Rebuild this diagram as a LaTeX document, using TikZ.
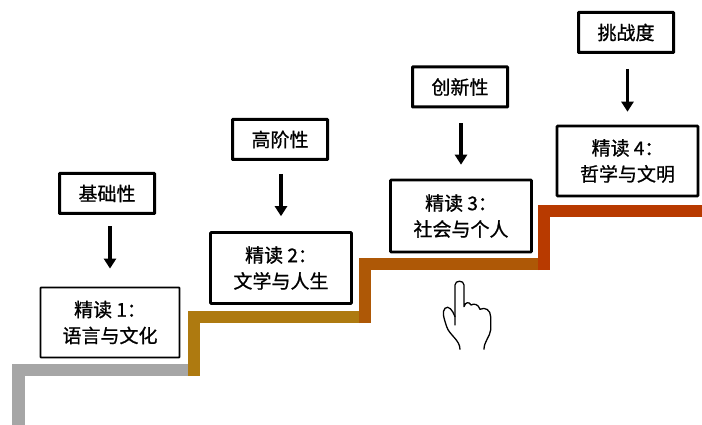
\documentclass[tikz,border=0pt]{standalone}
\usepackage{fontspec}
\setmainfont{Noto Sans CJK SC}[FakeBold=0.9]
\usetikzlibrary{arrows.meta}
\tikzset{
  x=1pt,y=-1pt,
  stair/.style={line width=12.5pt,miter limit=10},
  lab/.style={draw=black,line width=3pt,rounded corners=0.6pt,fill=white,inner sep=0pt,minimum width=95pt,minimum height=40pt,align=center,font=\fontsize{19}{26}\selectfont},
  box/.style={draw=black,line width=2.6pt,rounded corners=0.6pt,fill=white,inner sep=0pt,minimum width=139pt,minimum height=70pt,align=center,font=\fontsize{19}{26}\selectfont},
  thinbox/.style={box,line width=1.8pt},
  up/.style={-{Triangle[length=10pt,width=12pt]},line width=3.2pt,shorten <=11pt,shorten >=18pt},
  handline/.style={draw=black,line width=1.3pt,line join=round,line cap=round}
}
\begin{document}
\begin{tikzpicture}
\useasboundingbox (0,0) rectangle (702,425);
\draw[stair,color={rgb,255:red,166;green,166;blue,166}] (18.5,425) -- (18.5,370.2) -- (190,370.2);
\draw[stair,color={rgb,255:red,174;green,122;blue,16}] (194,376) -- (194,317.2) -- (361,317.2);
\draw[stair,color={rgb,255:red,174;green,88;blue,6}] (365,323) -- (365,264.2) -- (540,264.2);
\draw[stair,color={rgb,255:red,184;green,58;blue,0}] (544,270) -- (544,211) -- (702,211);

\node[thinbox,minimum width=139pt,minimum height=70pt] (b1) at (110,322.5) {精读 1：\\语言与文化};
\node[box,minimum width=141pt,minimum height=71pt] (b2) at (281,268) {精读 2：\\文学与人生};
\node[box,minimum width=141pt,minimum height=72pt] (b3) at (461,216) {精读 3：\\社会与个人};
\node[box,minimum width=141pt,minimum height=70pt] (b4) at (627.5,161) {精读 4：\\哲学与文明};

\node[lab] (l1) at (107,193.5) {基础性};
\node[lab] (l2) at (280,139.5) {高阶性};
\node[lab] (l3) at (460,87) {创新性};
\node[lab] (l4) at (626,32.5) {挑战度};

\draw[up] (l1.south -| b1.north) -- (b1.north);
\draw[up,shorten <=13pt,shorten >=15pt] (l2.south -| b2.north) -- (b2.north);
\draw[up,shorten <=15pt,shorten >=14pt] (l3.south -| b3.north) -- (b3.north);
\draw[up,shorten <=15pt,shorten >=13pt] (l4.south -| b4.north) -- (b4.north);

% hand
\draw[handline,xshift=340pt,yshift=-170pt,x=0.3333pt,y=-0.3333pt]
  (345,465) -- (345,345) .. controls (345,330) and (372,330) .. (372,345)
  -- (372,410) .. controls (376,395) and (388,395) .. (393,405)
  .. controls (402,400) and (415,402) .. (420,418)
  .. controls (435,410) and (452,420) .. (452,440)
  -- (452,480) .. controls (450,500) and (432,515) .. (432,538);
\draw[handline,xshift=340pt,yshift=-170pt,x=0.3333pt,y=-0.3333pt]
  (345,440) .. controls (338,420) and (325,405) .. (315,415)
  .. controls (305,425) and (312,445) .. (320,470)
  .. controls (328,495) and (360,510) .. (360,538);
\end{tikzpicture}
\end{document}
